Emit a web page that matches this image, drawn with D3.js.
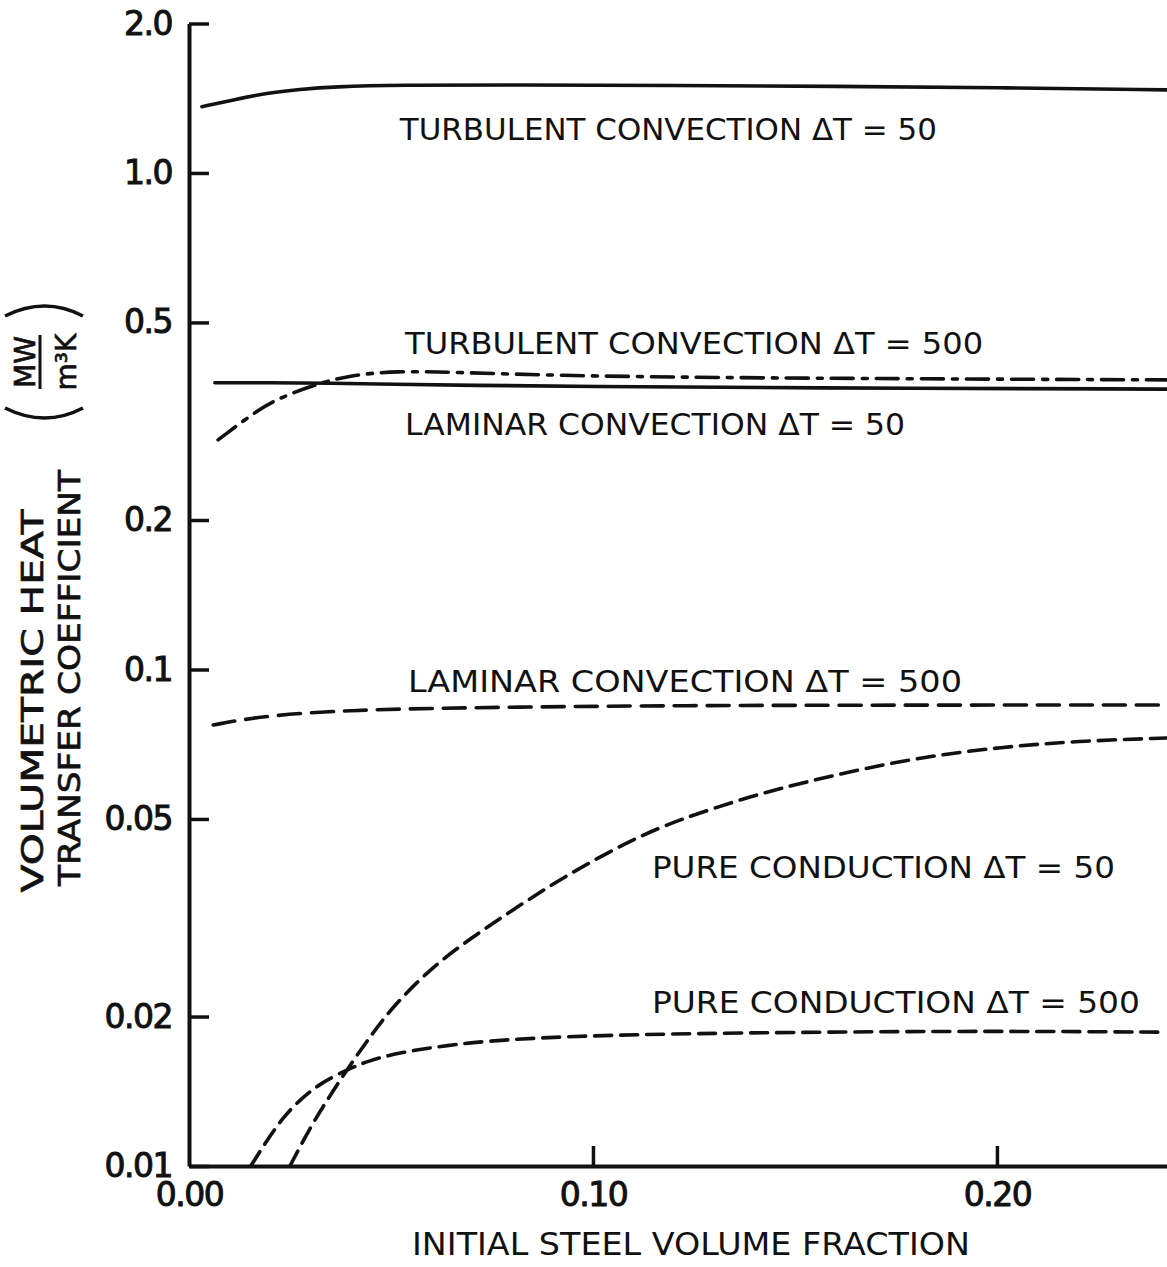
<!DOCTYPE html>
<html>
<head>
<meta charset="utf-8">
<script src="https://cdn.jsdelivr.net/npm/d3@7"></script>
<style>
body { margin: 0; background: #fff; }
svg { display: block; }
text { font-family: "DejaVu Sans", sans-serif; fill: #111; }
</style>
</head>
<body>
<div id="chart"></div>
<script>
// values: [steel volume fraction, coefficient MW/m3K]
var turb50 = [[0.0032, 1.36], [0.0109, 1.403], [0.0193, 1.449], [0.0275, 1.474], [0.0356, 1.492],
    [0.0522, 1.504], [0.08, 1.505], [0.12, 1.50], [0.16, 1.495], [0.20, 1.485], [0.242, 1.47]];
var turb500 = [[0.0072, 0.290], [0.0176, 0.336], [0.0225, 0.352], [0.0307, 0.374], [0.040, 0.392],
    [0.0515, 0.399], [0.065, 0.397], [0.09, 0.391], [0.13, 0.387], [0.18, 0.385], [0.242, 0.383]];
var lam50 = [[0.0064, 0.378], [0.02, 0.378], [0.035, 0.3775], [0.05, 0.3755], [0.07, 0.3735],
    [0.097, 0.3715], [0.15, 0.369], [0.242, 0.367]];
var lam500 = [[0.006, 0.0773], [0.015, 0.0798], [0.0275, 0.0817], [0.04, 0.0826], [0.052, 0.0833],
    [0.08, 0.084], [0.12, 0.0846], [0.18, 0.0848], [0.242, 0.0848]];
var cond50 = [[0.025, 0.0100], [0.03, 0.01197], [0.035, 0.0139], [0.04, 0.01603], [0.045, 0.01828],
    [0.05, 0.02075], [0.06, 0.02512], [0.07, 0.02884], [0.08, 0.03273], [0.09, 0.03698],
    [0.10, 0.04121], [0.11, 0.0455], [0.12, 0.04943], [0.14, 0.05598], [0.16, 0.06138],
    [0.18, 0.06637], [0.20, 0.06966], [0.22, 0.07178], [0.242, 0.07278]];
var cond500 = [[0.0153, 0.01], [0.0193, 0.01127], [0.0233, 0.01253], [0.0275, 0.01361], [0.0324, 0.01466],
    [0.0391, 0.01563], [0.0441, 0.01626], [0.0522, 0.01694], [0.0646, 0.01754], [0.077, 0.01795],
    [0.1017, 0.01837], [0.15, 0.0186], [0.20, 0.0187], [0.242, 0.0186]];

var yTicks = [0.01, 0.02, 0.05, 0.1, 0.2, 0.5, 1.0, 2.0];
var yTickLabels = ["0.01", "0.02", "0.05", "0.1", "0.2", "0.5", "1.0", "2.0"];
var xTicks = [0, 0.1, 0.2];
var xTickLabels = ["0.00", "0.10", "0.20"];

var curveNames = ["TURBULENT CONVECTION \u0394T = 50", "TURBULENT CONVECTION \u0394T = 500",
    "LAMINAR CONVECTION \u0394T = 50", "LAMINAR CONVECTION \u0394T = 500",
    "PURE CONDUCTION \u0394T = 50", "PURE CONDUCTION \u0394T = 500"];

var width = 1167, height = 1267;

var svg = d3.select("#chart").append("svg")
    .attr("width", width)
    .attr("height", height);

var x = d3.scaleLinear().domain([0, 0.2421]).range([189, 1167]);
var y = d3.scaleLog().domain([0.01, 2.0]).range([1166, 23.5]);

// series + how each is drawn and where its caption sits (caption anchor in data units)
var series = [
    {data: turb50, dash: null, label: curveNames[0], at: [0.0522, 1.165], len: 537},
    {data: turb500, dash: "22,9,5,9", label: curveNames[1], at: [0.0535, 0.432], len: 578},
    {data: lam50, dash: null, label: curveNames[2], at: [0.0535, 0.2967], len: 500},
    {data: lam500, dash: "22,11", label: curveNames[3], at: [0.0542, 0.0901], len: 554},
    {data: cond50, dash: "17,9", label: curveNames[4], at: [0.1146, 0.038], len: 463},
    {data: cond500, dash: "17,9", label: curveNames[5], at: [0.1146, 0.0203], len: 488}
];

var line = d3.line()
    .x(function (d) { return x(d[0]); })
    .y(function (d) { return y(d[1]); })
    .curve(d3.curveBasis);

var g = svg.append("g");

g.selectAll(".curve")
    .data(series)
    .enter().append("path")
    .attr("class", "curve")
    .attr("d", function (d) { return line(d.data); })
    .attr("fill", "none")
    .attr("stroke", "#111")
    .attr("stroke-width", 3.6)
    .attr("stroke-linecap", "round")
    .attr("stroke-dasharray", function (d) { return d.dash; });

g.selectAll(".curve-label")
    .data(series)
    .enter().append("text")
    .attr("class", "curve-label")
    .attr("x", function (d) { return x(d.at[0]); })
    .attr("y", function (d) { return y(d.at[1]); })
    .attr("font-size", 31)
    .attr("textLength", function (d) { return d.len; })
    .attr("lengthAdjust", "spacingAndGlyphs")
    .text(function (d) { return d.label; });

// axes, ticks pointing into the plot
var yAxis = d3.axisLeft(y)
    .tickValues(yTicks)
    .tickFormat(function (d, i) { return yTickLabels[i]; })
    .tickSizeInner(-20)
    .tickSizeOuter(0)
    .tickPadding(17);

var xAxis = d3.axisBottom(x)
    .tickValues(xTicks)
    .tickFormat(function (d, i) { return xTickLabels[i]; })
    .tickSizeInner(-20)
    .tickSizeOuter(0)
    .tickPadding(17);

var ya = svg.append("g")
    .attr("transform", "translate(" + x(0) + ",0)")
    .call(yAxis);

var xa = svg.append("g")
    .attr("transform", "translate(0," + y(0.01) + ")")
    .call(xAxis);

[ya, xa].forEach(function (a) {
    a.select(".domain").attr("stroke", "#111").attr("stroke-width", 4);
    a.selectAll(".tick line").attr("stroke", "#111").attr("stroke-width", 3.5);
    a.selectAll(".tick text")
        .attr("font-size", 33)
        .attr("letter-spacing", -1.5)
        .attr("font-family", "DejaVu Sans, sans-serif")
        .attr("fill", "#111")
        .attr("stroke", "#111")
        .attr("stroke-width", 1);
});
xa.selectAll(".tick").filter(function (d) { return d === 0; }).select("line").remove();

// x axis title
svg.append("text")
    .attr("x", 412)
    .attr("y", 1255)
    .attr("font-size", 32)
    .attr("textLength", 558)
    .attr("lengthAdjust", "spacingAndGlyphs")
    .text("INITIAL STEEL VOLUME FRACTION");

// y axis title, two rotated lines
svg.append("text")
    .attr("transform", "translate(43,701) rotate(-90)")
    .attr("text-anchor", "middle")
    .attr("font-size", 31)
    .attr("textLength", 383)
    .attr("lengthAdjust", "spacingAndGlyphs")
    .attr("stroke", "#111")
    .attr("stroke-width", 0.7)
    .text("VOLUMETRIC HEAT");

svg.append("text")
    .attr("transform", "translate(80,678) rotate(-90)")
    .attr("text-anchor", "middle")
    .attr("font-size", 31)
    .attr("textLength", 416)
    .attr("lengthAdjust", "spacingAndGlyphs")
    .attr("stroke", "#111")
    .attr("stroke-width", 0.7)
    .text("TRANSFER COEFFICIENT");

// units (MW / m3K)
var u = svg.append("g").attr("transform", "translate(45,362) rotate(-90)");
u.append("text")
    .attr("x", 0).attr("y", -10)
    .attr("text-anchor", "middle")
    .attr("font-size", 28)
    .attr("stroke", "#111").attr("stroke-width", 0.7)
    .text("MW");
u.append("line")
    .attr("x1", -27).attr("x2", 27)
    .attr("y1", -5).attr("y2", -5)
    .attr("stroke", "#111").attr("stroke-width", 3);
u.append("text")
    .attr("x", 0).attr("y", 31)
    .attr("text-anchor", "middle")
    .attr("font-size", 28)
    .attr("stroke", "#111").attr("stroke-width", 0.7)
    .text("m\u00B3K");
u.append("path")
    .attr("d", "M-46,-40 Q-66,0 -46,38")
    .attr("fill", "none").attr("stroke", "#111").attr("stroke-width", 3.5);
u.append("path")
    .attr("d", "M46,-40 Q66,0 46,38")
    .attr("fill", "none").attr("stroke", "#111").attr("stroke-width", 3.5);
</script>
</body>
</html>
